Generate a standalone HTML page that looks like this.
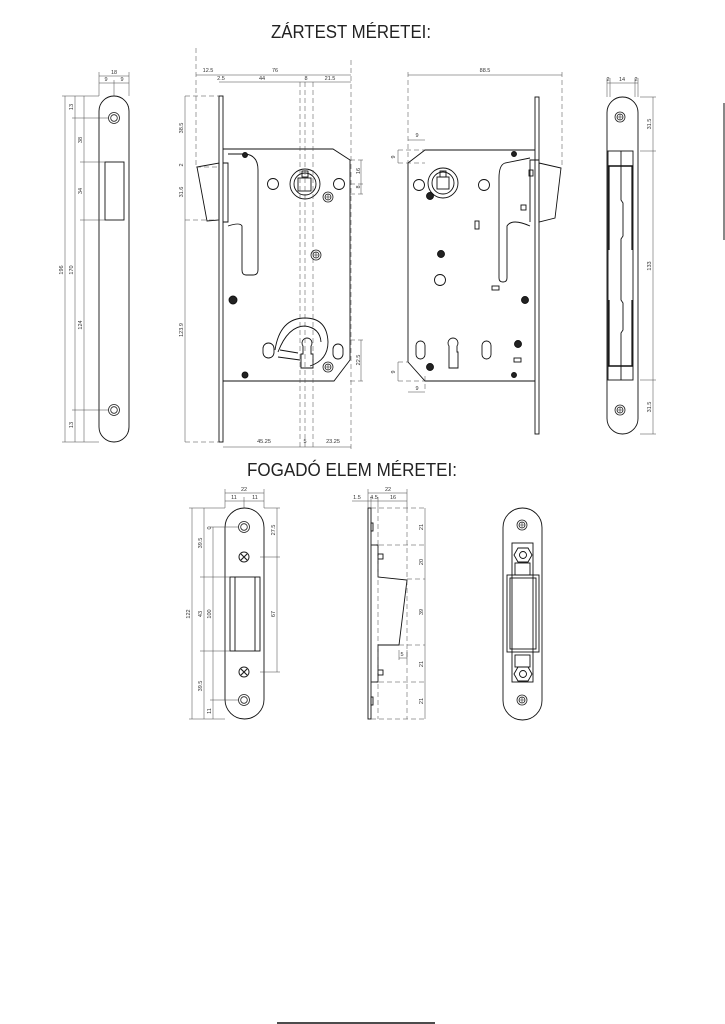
<!DOCTYPE html>
<html><head><meta charset="utf-8"><style>
html,body{margin:0;padding:0;background:#fff;}
svg{display:block}
text{font-family:"Liberation Sans",sans-serif;fill:#333}
.t{font-size:5.5px}
</style></head><body>
<svg width="725" height="1024" viewBox="0 0 725 1024" xmlns="http://www.w3.org/2000/svg">
<defs>
<g id="scr"><circle r="5" fill="none" stroke="#222" stroke-width="1"/><path d="M-3 -3L3 3M3 -3L-3 3" stroke="#222" stroke-width="1.2"/></g>
<g id="ph"><circle r="5" fill="none" stroke="#222" stroke-width="0.8"/><circle r="3" fill="none" stroke="#222" stroke-width="0.8"/><path d="M-3 0H3M0 -3V3" stroke="#222" stroke-width="0.6"/></g>
<g id="hole"><circle r="5.5" fill="none" stroke="#222" stroke-width="0.8"/><circle r="3.3" fill="none" stroke="#222" stroke-width="0.8"/></g>
</defs>
<g stroke="#111" fill="none" stroke-width="0.9">
<text x="271" y="38" textLength="160" lengthAdjust="spacingAndGlyphs" font-size="18" stroke="none" style="fill:#222">ZÁRTEST MÉRETEI:</text>
<text x="247" y="476" textLength="210" lengthAdjust="spacingAndGlyphs" font-size="18" stroke="none" style="fill:#222">FOGADÓ ELEM MÉRETEI:</text>

<!-- VIEW 1 faceplate -->
<rect x="99" y="96" width="30" height="346" rx="15"/>
<rect x="105" y="162" width="19" height="58"/>
<use href="#hole" x="114" y="118"/><use href="#hole" x="114" y="410"/>
<g stroke-width="0.5" stroke="#444">
<path d="M65 96V442M75 96V442M84 96V442M62 96H99M62 442H99M72 118H109M72 410H109M80 162H105M80 220H105"/>
<path d="M99 76H129M99 83H129M114 80V96M99 72V96M129 72V96"/>
</g>
<g class="t" stroke="none">
<text x="114" y="74" text-anchor="middle">18</text><text x="106" y="81" text-anchor="middle">9</text><text x="122" y="81" text-anchor="middle">9</text>
<text transform="translate(63,270) rotate(-90)" text-anchor="middle">196</text>
<text transform="translate(73,270) rotate(-90)" text-anchor="middle">170</text>
<text transform="translate(73,107) rotate(-90)" text-anchor="middle">13</text>
<text transform="translate(82,140) rotate(-90)" text-anchor="middle">38</text>
<text transform="translate(82,191) rotate(-90)" text-anchor="middle">34</text>
<text transform="translate(82,325) rotate(-90)" text-anchor="middle">124</text>
<text transform="translate(73,425) rotate(-90)" text-anchor="middle">13</text>
</g>

<!-- VIEW 2 main body -->
<rect x="219" y="96" width="4" height="346"/>
<path d="M223 149H333L350 160V360L334 381H223"/>
<path d="M197 167L219 163V220L207 221Z"/>
<path d="M223 163H228V222H223"/>
<path d="M228 154L245 154Q258 155 258 170V270Q258 275 253 275H246Q242 275 242 270V226Q240 222 228 226"/>
<circle cx="305" cy="184" r="15"/><circle cx="305" cy="184" r="11"/><rect x="298" y="178" width="13" height="13"/><rect x="302" y="171" width="6" height="6"/>
<circle cx="273" cy="184" r="5.5"/><circle cx="339" cy="184" r="5.5"/>
<use href="#ph" x="328" y="197"/><use href="#ph" x="316" y="255"/><use href="#ph" x="328" y="367"/>
<circle cx="245" cy="155" r="2.5" fill="#222"/><circle cx="233" cy="300" r="4" fill="#222"/><circle cx="245" cy="375" r="3" fill="#222"/>
<path d="M275 350Q280 318 305 318Q327 318 328 342Q328 360 310 366"/>
<path d="M278 352Q288 326 305 326Q320 328 321 342"/>
<path d="M278 357L300 360M280 350L298 353"/>
<rect x="263" y="343" width="11" height="15" rx="5.5"/><rect x="333" y="344" width="10" height="15" rx="5"/>
<path d="M303 354V346A5 5 0 1 1 311 346V354H313V368H301V354Z"/>
<g stroke-width="0.5" stroke-dasharray="5 3" stroke="#444">
<path d="M196 48V167M196 167H219M300 82V450M305 82V450M313 82V450M351 60V450M185 96H219M185 220H219M185 442H219"/>
<path d="M350 160H365M350 184H365M350 194H365M350 340H365M350 381H365"/>
</g>
<g stroke-width="0.5" stroke="#444">
<path d="M196 75H351M219 82H351M185 96V442M361 160V194M361 340V381M223 447H351"/>
</g>
<g class="t" stroke="none">
<text x="208" y="72" text-anchor="middle">12.5</text><text x="275" y="72" text-anchor="middle">76</text>
<text x="221" y="80" text-anchor="middle">2.5</text><text x="262" y="80" text-anchor="middle">44</text><text x="306" y="80" text-anchor="middle">8</text><text x="330" y="80" text-anchor="middle">21.5</text>
<text transform="translate(183,128) rotate(-90)" text-anchor="middle">38.5</text>
<text transform="translate(183,165) rotate(-90)" text-anchor="middle">2</text>
<text transform="translate(183,192) rotate(-90)" text-anchor="middle">31.6</text>
<text transform="translate(183,330) rotate(-90)" text-anchor="middle">123.9</text>
<text transform="translate(360,171) rotate(-90)" text-anchor="middle">16</text>
<text transform="translate(360,187) rotate(-90)" text-anchor="middle">8</text>
<text transform="translate(360,360) rotate(-90)" text-anchor="middle">22.5</text>
<text x="264" y="443" text-anchor="middle">45.25</text><text x="305" y="443" text-anchor="middle">5</text><text x="333" y="443" text-anchor="middle">23.25</text>
</g>

<!-- VIEW 3 back -->
<rect x="535" y="97" width="4" height="337"/>
<path d="M535 150H425L408 163V362L425 381H535"/>
<path d="M539 163L561 168L555 218L539 222Z"/>
<path d="M539 160H530V222"/>
<path d="M530 158L505 163Q499 165 499 178V278Q499 282 503 282Q507 282 507 278V226Q512 218 530 226"/>
<rect x="529" y="170" width="4" height="6"/><rect x="521" y="205" width="5" height="5"/>
<circle cx="443" cy="183" r="15"/><circle cx="443" cy="183" r="11"/><rect x="437" y="177" width="12" height="12"/><rect x="440" y="171" width="6" height="6"/>
<circle cx="419" cy="185" r="5.5"/><circle cx="484" cy="185" r="5.5"/><circle cx="440" cy="280" r="5.5"/>
<circle cx="430" cy="196" r="3.5" fill="#222"/><circle cx="441" cy="254" r="3.5" fill="#222"/><circle cx="514" cy="154" r="2.5" fill="#222"/><circle cx="525" cy="300" r="3.5" fill="#222"/><circle cx="518" cy="344" r="3.5" fill="#222"/><circle cx="430" cy="367" r="3.5" fill="#222"/><circle cx="514" cy="375" r="2.5" fill="#222"/>
<rect x="475" y="221" width="4" height="8"/><rect x="492" y="286" width="7" height="4"/><rect x="514" y="358" width="7" height="4"/>
<rect x="416" y="341" width="9" height="18" rx="4.5"/><rect x="482" y="341" width="9" height="18" rx="4.5"/>
<path d="M449 352V346A5 5 0 1 1 457 346V352H458V368H449Z"/>
<g stroke-width="0.5" stroke-dasharray="5 3" stroke="#444"><path d="M408 72V163M562 72V168M398 163H425M398 150H425M398 362H408M398 381H425M425 376V392"/></g>
<g stroke-width="0.5" stroke="#444"><path d="M408 75H562M408 140H425M398 150V163M398 362V381M408 392H425"/></g>
<g class="t" stroke="none">
<text x="485" y="72" text-anchor="middle">88.5</text><text x="417" y="137" text-anchor="middle">9</text>
<text transform="translate(395,157) rotate(-90)" text-anchor="middle">9</text>
<text transform="translate(395,372) rotate(-90)" text-anchor="middle">9</text>
<text x="417" y="390" text-anchor="middle">9</text>
</g>

<!-- VIEW 4 edge -->
<rect x="607" y="97" width="31" height="337" rx="15.5"/>
<rect x="608" y="151" width="25" height="229"/>
<path d="M608 166H633M608 366H633" stroke-width="1.5"/>
<path d="M621 151V200L623 203V236L621 239V300L623 303V330L621 333V380"/>
<path d="M609 166V250M632 166V250M609 300V366M632 300V366" stroke-width="1.2"/>
<use href="#ph" x="620" y="117"/><use href="#ph" x="620" y="410"/>
<g stroke-width="0.5" stroke="#444"><path d="M653 97V434M640 97H656M640 151H656M640 380H656M640 434H656M607 83H638M607 78V97M610 78V97M635 78V97M638 78V97"/></g>
<g class="t" stroke="none">
<text x="608" y="81" text-anchor="middle">2</text><text x="622" y="81" text-anchor="middle">14</text><text x="636" y="81" text-anchor="middle">2</text>
<text transform="translate(651,124) rotate(-90)" text-anchor="middle">31.5</text>
<text transform="translate(651,266) rotate(-90)" text-anchor="middle">133</text>
<text transform="translate(651,407) rotate(-90)" text-anchor="middle">31.5</text>
</g>
<path d="M724 103V240" stroke-width="1"/>

<!-- STRIKE front -->
<rect x="225" y="508" width="39" height="211" rx="19.5"/>
<rect x="230" y="577" width="30" height="74"/><path d="M235 577V651M255 577V651"/>
<use href="#hole" x="244" y="527"/><use href="#hole" x="244" y="700"/>
<use href="#scr" x="244" y="557"/><use href="#scr" x="244" y="672"/>
<g stroke-width="0.5" stroke="#444"><path d="M192 508V719M204 508V719M213 527V719M277 508V672M189 508H225M189 719H225M200 577H230M200 651H230M210 527H238M210 700H238M260 557H280M260 672H280M264 508H280M225 493H264M225 501H264M225 489V508M244 497V508M264 489V508"/></g>
<g class="t" stroke="none">
<text x="244" y="491" text-anchor="middle">22</text><text x="234" y="499" text-anchor="middle">11</text><text x="255" y="499" text-anchor="middle">11</text>
<text transform="translate(190,614) rotate(-90)" text-anchor="middle">122</text>
<text transform="translate(202,543) rotate(-90)" text-anchor="middle">39.5</text>
<text transform="translate(202,614) rotate(-90)" text-anchor="middle">43</text>
<text transform="translate(211,614) rotate(-90)" text-anchor="middle">100</text>
<text transform="translate(211,528) rotate(-90)" text-anchor="middle">0</text>
<text transform="translate(202,686) rotate(-90)" text-anchor="middle">39.5</text>
<text transform="translate(211,711) rotate(-90)" text-anchor="middle">11</text>
<text transform="translate(275,530) rotate(-90)" text-anchor="middle">27.5</text>
<text transform="translate(275,614) rotate(-90)" text-anchor="middle">67</text>
</g>

<!-- STRIKE side -->
<rect x="368" y="508" width="3" height="211"/>
<path d="M371 545H378V577L407 580L399 645H378V682H371"/>
<rect x="371" y="523" width="2" height="8"/><rect x="371" y="697" width="2" height="8"/>
<rect x="378" y="554" width="5" height="5"/><rect x="378" y="670" width="5" height="5"/>
<g stroke-width="0.5" stroke-dasharray="5 3" stroke="#444"><path d="M371 508H425M371 545H425M407 579H425M399 645H425M371 682H425M371 719H425M378 508V719M407 508V719"/></g>
<g stroke-width="0.5" stroke="#444"><path d="M425 508V719M368 493H407M352 501H407M368 489V508M371 497V508M378 497V508M407 489V508M399 650V660M407 650V660M399 658H407"/></g>
<g class="t" stroke="none">
<text x="388" y="491" text-anchor="middle">22</text><text x="357" y="499" text-anchor="middle">1.5</text><text x="374" y="499" text-anchor="middle">4.5</text><text x="393" y="499" text-anchor="middle">16</text>
<text x="402" y="656" text-anchor="middle">5</text>
<text transform="translate(423,527) rotate(-90)" text-anchor="middle">21</text>
<text transform="translate(423,562) rotate(-90)" text-anchor="middle">20</text>
<text transform="translate(423,612) rotate(-90)" text-anchor="middle">39</text>
<text transform="translate(423,664) rotate(-90)" text-anchor="middle">21</text>
<text transform="translate(423,701) rotate(-90)" text-anchor="middle">21</text>
</g>

<!-- STRIKE back -->
<rect x="503" y="508" width="39" height="212" rx="19.5"/>
<rect x="512" y="543" width="21" height="139"/>
<rect x="507" y="575" width="32" height="77"/><rect x="510" y="578" width="26" height="71"/>
<rect x="515" y="563" width="15" height="12"/><rect x="515" y="655" width="15" height="12"/>
<path d="M514 555L518 548H528L532 555L528 562H518Z"/><circle cx="523" cy="555" r="3.5"/>
<path d="M514 674L518 667H528L532 674L528 681H518Z"/><circle cx="523" cy="674" r="3.5"/>
<use href="#ph" x="522" y="525"/><use href="#ph" x="522" y="700"/>

<path d="M277 1023H435" stroke-width="1.5"/>
</g>
</svg>
</body></html>
